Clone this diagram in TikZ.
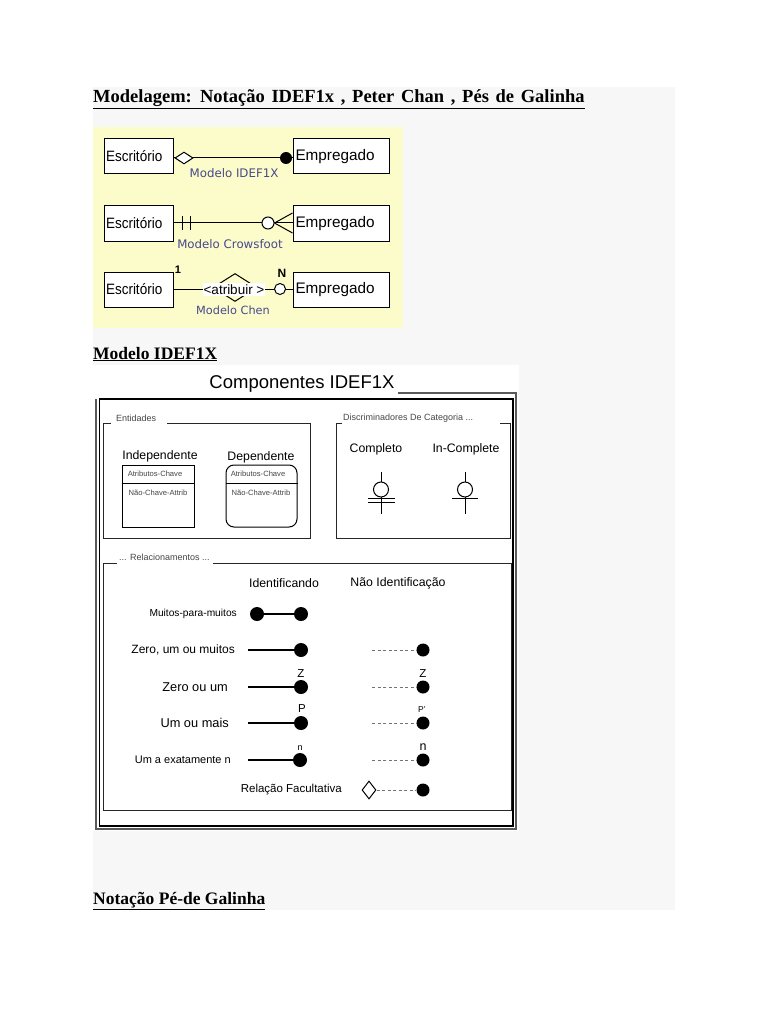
\documentclass[tikz,border=0pt]{standalone}
\usepackage{fontspec}
\usepackage{graphicx}
\setmainfont{Liberation Serif}
\setsansfont{Liberation Sans}
\newfontfamily\verd{DejaVu Sans}
\usetikzlibrary{shapes.geometric}
\newcommand{\fsz}[1]{\fontsize{#1}{#1}\selectfont}
\definecolor{pagegray}{RGB}{247,247,247}
\definecolor{yel}{RGB}{252,252,202}
\definecolor{lblblue}{RGB}{72,72,140}
\definecolor{frameout}{RGB}{90,90,90}
\definecolor{smalltxt}{RGB}{70,70,70}
\begin{document}
\begin{tikzpicture}[x=1pt,y=-1pt,
  heading/.style={font=\bfseries\fsz{17.5}, inner sep=0, anchor=base west},
  ebox/.style={draw, line width=1, fill=white, inner ysep=0, inner xsep=2, minimum height=35, align=left, font=\sffamily},
  esc/.style={ebox, text width=65, font=\sffamily\fsz{15}},
  emp/.style={ebox, text width=91, inner xsep=2.5, font=\sffamily\fsz{15.3}},
  bluelbl/.style={font=\verd\fsz{11.8}, text=lblblue, inner sep=0},
  rel/.style={line width=1},
  grpbox/.style={line width=0.9, draw=black!85},
  grplbl/.style={font=\sffamily\fsz{9}, text=smalltxt, inner sep=0},
  colhead/.style={font=\sffamily\fsz{12.3}, inner sep=0},
  tiny/.style={font=\sffamily\fsz{7.6}, text=smalltxt, inner sep=0},
  dot/.style={circle, fill=black, minimum size=14, inner sep=0},
  rowlbl/.style={font=\sffamily\fsz{12}, inner sep=0, anchor=east},
  sline/.style={line width=1.8},
  dline/.style={dashed, dash pattern=on 3pt off 2.5pt, draw=black!55, line width=0.6},
  letter/.style={font=\sffamily\fsz{11.5}, inner sep=0},
  sym/.style={line width=1}
]
\useasboundingbox (0,0) rectangle (768,1024);
\fill[white] (0,0) rectangle (768,1024);
\fill[pagegray] (93,87) rectangle (675,910);

% headings
\node[heading, font=\bfseries\fsz{18.5}] (h1) at (93,103) {\spaceskip=6.7pt\underline{Modelagem: Notação IDEF1x , Peter Chan , Pés de Galinha}};
\node[heading] (h2) at (93,359) {\underline{Modelo IDEF1X}};
\node[heading] (h3) at (93,904) {\underline{Notação Pé-de Galinha}};

% ---------- yellow panel ----------
\fill[yel] (93,127) rectangle (403,328);

% row 1 : IDEF1X
\node[esc] (esc1) at (138.5,156.5) {\scalebox{0.9}[1]{Escritório}};
\node[emp] (emp1) at (341,156.5) {Empregado};
\draw[rel] (esc1.east |- 0,158) -- (emp1.west |- 0,158);
\node[diamond, draw, line width=1, fill=white, minimum width=18, minimum height=12, inner sep=0] (dm1) at (184,158) {};
\node[circle, fill=black, minimum size=12, inner sep=0] (fc1) at (286,158) {};
\node[bluelbl] (l1) at (234,173) {Modelo IDEF1X};

% row 2 : crowsfoot
\node[esc] (esc2) at (138.5,223.5) {\scalebox{0.9}[1]{Escritório}};
\node[emp] (emp2) at (341,223.5) {Empregado};
\draw[rel] (esc2.east |- 0,223) -- (emp2.west |- 0,223);
\draw[rel] (182,216) -- (182,230);
\draw[rel] (190,216) -- (190,230);
\node[circle, draw, line width=1, fill=white, minimum size=12, inner sep=0] (oc2) at (268,223) {};
\draw[rel] (oc2.east) -- (emp2.west |- 0,213);
\draw[rel] (oc2.east) -- (emp2.west |- 0,233);
\node[bluelbl] (l2) at (230,244) {Modelo Crowsfoot};

% row 3 : Chen
\node[esc] (esc3) at (138.5,289.5) {\scalebox{0.9}[1]{Escritório}};
\node[emp] (emp3) at (341,289.5) {Empregado};
\draw[rel] (esc3.east |- 0,289) -- (emp3.west |- 0,289);
\node[diamond, draw, line width=1, minimum width=44, minimum height=28, inner sep=0] (rd3) at (235,287.5) {};
\node[fill=white, inner xsep=1, inner ysep=1.5, font=\sffamily\fsz{13.5}] (at3) at (234,289.5) {<atribuir >};
\node[circle, draw, line width=1, fill=white, minimum size=11, inner sep=0] (oc3) at (280,289) {};
\node[font=\sffamily\bfseries\fsz{11}, inner sep=0] (one3) at (178,270) {1};
\node[font=\sffamily\bfseries\fsz{12}, inner sep=0] (n3) at (282,273) {N};
\node[bluelbl, font=\verd\fsz{11.3}] (l3) at (233,310) {Modelo Chen};

% ---------- IDEF1X components panel ----------
\fill[white] (93,365) rectangle (519,831);
\draw[line width=1.2, draw=frameout] (398,393) -- (516,393) -- (516,829) -- (96,829) -- (96,399);
\draw[line width=1.2] (99.5,399) rectangle (513,826);
\node[font=\sffamily\fsz{18.5}, inner sep=0] (ctitle) at (302,384) {Componentes IDEF1X};

% Entidades group
\draw[grpbox] (111,423) -- (103,423) -- (103,538) -- (310,538) -- (310,423) -- (167,423);
\node[grplbl, anchor=west] (gent) at (116,418) {Entidades};
\node[colhead] (tind) at (160,456) {Independente};
\node[colhead] (tdep) at (261,457) {Dependente};
\node[draw, line width=1, minimum width=72, minimum height=62, inner sep=0] (ind) at (158,496) {};
\draw[line width=1] (ind.west |- 0,483) -- (ind.east |- 0,483);
\node[tiny] (ind1) at (155,474) {Atributos-Chave};
\node[tiny] (ind2) at (158,493) {Não-Chave-Attrib};
\node[draw, line width=1, rounded corners=8, minimum width=71, minimum height=62, inner sep=0] (dep) at (261.5,496) {};
\draw[line width=1] (dep.west |- 0,483) -- (dep.east |- 0,483);
\node[tiny] (dep1) at (258,474) {Atributos-Chave};
\node[tiny] (dep2) at (261,493) {Não-Chave-Attrib};

% Discriminadores group
\draw[grpbox] (342,423) -- (336,423) -- (336,538) -- (510,538) -- (510,423) -- (500,423);
\node[grplbl, anchor=west] (gdis) at (343,418) {Discriminadores De Categoria ...};
\node[colhead] (tcomp) at (376,449) {Completo};
\node[colhead] (tinc) at (466,449) {In-Complete};
\coordinate (c1t) at (381,472);
\coordinate (c1b) at (381,514);
\draw[sym] (c1t) -- (c1b);
\node[circle, draw, line width=1, fill=white, minimum size=15, inner sep=0] (cc1) at (381,489.5) {};
\draw[sym] (368,498.3) -- (395,498.3);
\draw[sym] (368,502.3) -- (395,502.3);
\coordinate (c2t) at (465,472);
\coordinate (c2b) at (465,514);
\draw[sym] (c2t) -- (c2b);
\node[circle, draw, line width=1, fill=white, minimum size=15, inner sep=0] (cc2) at (465,489.5) {};
\draw[sym] (452,498.3) -- (478,498.3);

% Relacionamentos group
\draw[grpbox] (117,563) -- (103,563) -- (103,810) -- (511,810) -- (511,563) -- (213,563);
\node[grplbl, anchor=west] (grel) at (119,557) {... Relacionamentos ...};
\node[colhead] (tid) at (284,583) {Identificando};
\node[colhead] (tnid) at (398,583) {Não Identificação};

% row: muitos-para-muitos
\node[rowlbl, font=\sffamily\fsz{10.2}] (r1) at (237,614) {Muitos-para-muitos};
\node[dot] (r1a) at (257,614) {};
\node[dot] (r1b) at (301,614) {};
\draw[sline] (r1a) -- (r1b);

% row: zero, um ou muitos
\node[rowlbl] (r2) at (235,650) {Zero, um ou muitos};
\coordinate (r2s) at (248,650);
\node[dot] (r2a) at (301,650) {};
\draw[sline] (r2s) -- (r2a);
\coordinate (r2t) at (372,650);
\node[dot, minimum size=13] (r2b) at (423,650) {};
\draw[dline] (r2t) -- (r2b);

% row: zero ou um
\node[rowlbl, font=\sffamily\fsz{12.8}] (r3) at (228,687) {Zero ou um};
\coordinate (r3s) at (248,687);
\node[dot] (r3a) at (301,687) {};
\draw[sline] (r3s) -- (r3a);
\coordinate (r3t) at (372,687);
\node[dot, minimum size=13] (r3b) at (423,687) {};
\draw[dline] (r3t) -- (r3b);
\node[letter] (z1) at (301,674) {Z};
\node[letter] (z2) at (423,674) {Z};

% row: um ou mais
\node[rowlbl, font=\sffamily\fsz{12.8}] (r4) at (229,723) {Um ou mais};
\coordinate (r4s) at (248,723);
\node[dot] (r4a) at (301,723) {};
\draw[sline] (r4s) -- (r4a);
\coordinate (r4t) at (372,723);
\node[dot, minimum size=13] (r4b) at (423,723) {};
\draw[dline] (r4t) -- (r4b);
\node[letter] (p1) at (302,709) {P};
\node[letter, font=\sffamily\fsz{8.5}] (p2) at (422,710) {P’};

% row: um a exatamente n
\node[rowlbl, font=\sffamily\fsz{11}] (r5) at (231,760) {Um a exatamente n};
\coordinate (r5s) at (248,760);
\node[dot] (r5a) at (300,760) {};
\draw[sline] (r5s) -- (r5a);
\coordinate (r5t) at (372,760);
\node[dot, minimum size=13] (r5b) at (423,760) {};
\draw[dline] (r5t) -- (r5b);
\node[letter, font=\sffamily\fsz{9}] (n1) at (300,748) {n};
\node[letter, font=\sffamily\fsz{12.5}] (n2) at (423,747) {n};

% row: relacao facultativa
\node[rowlbl, font=\sffamily\fsz{11.5}] (r6) at (342,790) {Relação Facultativa};
\node[diamond, draw, line width=1, fill=white, minimum width=14, minimum height=18, inner sep=0] (r6d) at (369,790) {};
\node[dot, minimum size=13] (r6b) at (423,790) {};
\draw[dline] (r6d) -- (r6b);
\end{tikzpicture}
\end{document}
